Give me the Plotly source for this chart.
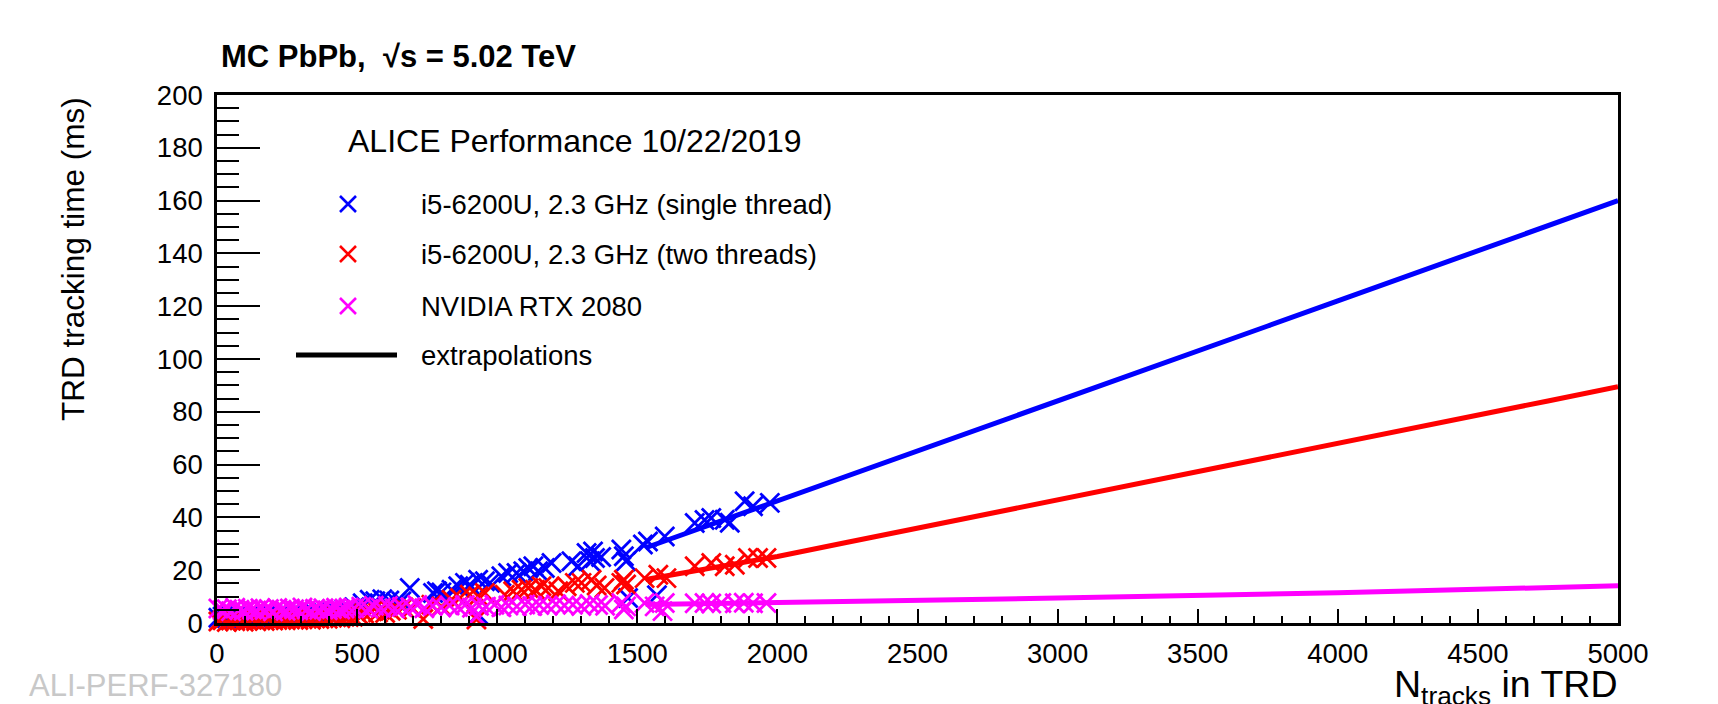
import plotly.graph_objects as go

# ---------------- data ----------------
single_x = [5, 20, 35, 50, 65, 80, 95, 110, 125, 140, 155, 170, 185, 200, 215, 230,
            245, 260, 275, 290, 305, 320, 335, 350, 365, 380, 395, 410, 425, 440, 455, 470,
            490, 520, 545, 565, 590, 615, 640, 658, 688, 771, 785, 801, 837, 861, 885, 902,
            932, 932, 956, 974, 1015, 1039, 1069, 1093, 1111, 1129, 1146, 1170, 1194, 1265,
            1289, 1319, 1331, 1342, 1349, 1371, 1443, 1452, 1460, 1467, 1520, 1538, 1570,
            1598, 1705, 1740, 1764, 1812, 1830, 1883, 1913, 1973]
single_y = [2.0, 2.5, 1.8, 2.6, 2.2, 2.8, 2.1, 2.4, 2.9, 2.3, 2.7, 2.5, 3.0, 2.6, 2.8, 3.1,
            2.7, 3.0, 3.3, 2.9, 3.2, 3.4, 3.1, 3.5, 3.3, 3.7, 3.6, 4.0, 4.3, 4.8, 5.2, 5.5,
            6.0, 7.5, 8.8, 8.2, 9.0, 8.5, 8.0, 8.2, 13.3, 11.4, 12.0, 11.6, 12.6, 13.9, 15.2, 14.5,
            16.4, 3.2, 15.8, 15.2, 17.7, 18.9, 18.9, 19.6, 20.8, 21.5, 19.6, 20.8, 22.7, 23.4,
            21.5, 26.5, 23.4, 27.1, 24.6, 25.0, 27.8, 25.3, 23.4, 9.5, 29.7, 30.9, 10.5,
            32.8, 37.9, 39.0, 39.8, 39.1, 38.0, 46.1, 44.2, 45.5]

two_x = [5, 20, 35, 50, 65, 80, 95, 110, 125, 140, 155, 170, 185, 200, 215, 230,
         245, 260, 275, 290, 305, 320, 335, 350, 365, 380, 395, 410, 425, 440, 455, 470,
         485, 505, 525, 553, 575, 600, 620, 642, 665, 695, 736, 765, 801, 837, 867, 902,
         926, 932, 956, 1027, 1057, 1087, 1111, 1135, 1158, 1182, 1218, 1248, 1277, 1301,
         1337, 1355, 1383, 1443, 1452, 1460, 1526, 1575, 1604, 1705, 1764, 1812, 1848,
         1895, 1931, 1961]
two_y = [0.6, 1.0, 0.4, 0.9, 0.7, 1.1, 0.5, 0.9, 1.2, 0.7, 1.0, 0.8, 1.3, 0.9, 1.1, 1.4,
         1.0, 1.3, 1.5, 1.1, 1.4, 1.6, 1.2, 1.7, 1.5, 1.9, 1.6, 2.0, 2.2, 1.8, 2.4, 2.3,
         2.4, 3.1, 3.6, 4.4, 4.0, 3.8, 4.6, 5.0, 6.0, 5.7, 1.5, 6.9, 6.3, 8.8, 9.5, 10.7,
         1.3, 10.1, 11.4, 10.7, 12.0, 12.6, 13.3, 12.6, 13.9, 13.3, 12.0, 13.9, 15.2, 15.2,
         16.4, 14.2, 13.3, 15.2, 16.4, 14.6, 17.0, 18.3, 17.0, 21.5, 22.7, 21.5, 22.1,
         24.6, 24.6, 24.6]

gpu_x = [5, 20, 35, 50, 65, 80, 95, 110, 125, 140, 155, 170, 185, 200, 215, 230,
         245, 260, 275, 290, 305, 320, 335, 350, 365, 380, 395, 410, 425, 440, 455, 470,
         490, 515, 540, 560, 585, 610, 635, 660, 690, 715, 740, 770, 800, 830, 860, 885,
         910, 926, 935, 960, 990, 1015, 1040, 1070, 1100, 1125, 1150, 1180, 1210, 1240,
         1270, 1300, 1330, 1360, 1385, 1443, 1452, 1460, 1526, 1562, 1590, 1598, 1705,
         1740, 1764, 1800, 1848, 1880, 1913, 1961]
gpu_y = [5.5, 4.8, 5.2, 4.5, 5.8, 5.0, 4.6, 5.4, 5.1, 4.7, 5.6, 4.9, 5.3, 4.4, 5.7, 5.0,
         4.6, 5.5, 5.2, 4.8, 5.9, 5.1, 4.5, 5.4, 5.0, 5.6, 4.8, 5.3, 5.8, 5.1, 5.5, 5.9,
         5.6, 6.2, 5.4, 6.5, 5.8, 6.4, 5.5, 6.1, 6.0, 6.8, 5.6, 6.4, 5.9, 6.6, 6.1, 6.8,
         5.8, 2.5, 6.5, 6.2, 6.9, 6.0, 6.6, 6.3, 7.0, 6.4, 6.8, 6.5, 7.1, 6.6,
         6.9, 6.4, 7.2, 6.8, 6.5, 7.6, 5.1, 6.3, 7.6, 6.3, 4.5, 7.6, 7.5,
         7.6, 7.4, 7.6, 7.5, 7.7, 7.5, 7.6]

ext_x = [1530, 1750, 2000, 2250, 2500, 2750, 3000, 3250, 3500, 3750, 4000, 4250, 4500, 4750, 5000]
ext_single = [28.5, 36.8, 46.0, 55.5, 65.0, 74.5, 84.0, 93.5, 103.0, 112.5, 122.0, 131.5, 141.0, 150.5, 160.0]
ext_two = [16.5, 20.5, 25.2, 30.6, 35.9, 41.3, 46.6, 52.0, 57.3, 62.7, 68.1, 73.4, 78.8, 84.1, 89.5]
ext_gpu = [7.0, 7.3, 7.8, 8.2, 8.6, 9.0, 9.5, 9.9, 10.4, 10.9, 11.5, 12.1, 12.7, 13.4, 14.1]

names = ["i5-6200U, 2.3 GHz (single thread)", "i5-6200U, 2.3 GHz (two threads)", "NVIDIA RTX 2080"]
colors = ["#0000ff", "#ff0000", "#ff00ff"]

# ---------------- figure ----------------
W, H = 1718, 704
ML, MR, MT, MB = 217, 100, 95, 81
PW, PH = W - ML - MR, H - MT - MB
FONT = "Liberation Sans, Arial, sans-serif"
MSIZE, MLW = 19, 2.8


def px(xp):
    return (xp - ML) / PW


def py(yp):
    return (H - MB - yp) / PH


fig = go.Figure()

for xs, ys, c, n in [(single_x, single_y, colors[0], names[0]),
                     (two_x, two_y, colors[1], names[1]),
                     (gpu_x, gpu_y, colors[2], names[2])]:
    fig.add_trace(go.Scatter(x=xs, y=ys, mode="markers", name=n, cliponaxis=False,
                             marker=dict(symbol="x-thin", size=MSIZE,
                                         line=dict(color=c, width=MLW)),
                             showlegend=False))

for ys, c in [(ext_single, colors[0]), (ext_two, colors[1]), (ext_gpu, colors[2])]:
    fig.add_trace(go.Scatter(x=ext_x, y=ys, mode="lines", line=dict(color=c, width=5),
                             showlegend=False))

# legend symbols on an overlay axis measured in page pixels
leg_y = [204, 254, 306]
for yy, c in zip(leg_y, colors):
    fig.add_trace(go.Scatter(x=[348], y=[H - yy], mode="markers", xaxis="x2", yaxis="y2",
                             cliponaxis=False, showlegend=False,
                             marker=dict(symbol="x-thin", size=16,
                                         line=dict(color=c, width=2.6))))
fig.add_trace(go.Scatter(x=[296, 397], y=[H - 355, H - 355], mode="lines", xaxis="x2", yaxis="y2",
                         cliponaxis=False, showlegend=False, line=dict(color="black", width=5)))

tickfont = dict(family=FONT, size=27.5, color="black")
fig.update_layout(
    width=W, height=H,
    margin=dict(l=ML, r=MR, t=MT, b=MB),
    paper_bgcolor="white", plot_bgcolor="white",
    showlegend=False,
    xaxis=dict(range=[0, 5000], dtick=500, tick0=0, showgrid=False, zeroline=False,
               showline=True, linecolor="black", linewidth=2.5, mirror=True,
               ticks="inside", ticklen=14, tickwidth=2, tickcolor="black",
               minor=dict(dtick=100, ticks="inside", ticklen=7, tickwidth=2, tickcolor="black"),
               tickfont=tickfont, ticklabelstandoff=4),
    yaxis=dict(range=[0, 200], dtick=20, tick0=0, showgrid=False, zeroline=False,
               showline=True, linecolor="black", linewidth=2.5, mirror=True,
               ticks="inside", ticklen=43, tickwidth=2, tickcolor="black",
               minor=dict(dtick=5, ticks="inside", ticklen=22, tickwidth=2, tickcolor="black"),
               tickfont=tickfont, ticklabelstandoff=6),
    xaxis2=dict(overlaying="x", range=[ML, W - MR], visible=False),
    yaxis2=dict(overlaying="y", range=[MB, H - MT], visible=False),
)

ann = []
ann.append(dict(text="<b>MC PbPb,  √s = 5.02 TeV</b>", x=px(219), y=py(57), xanchor="left",
                yanchor="middle", font=dict(family=FONT, size=31, color="black")))
ann.append(dict(text="ALICE Performance 10/22/2019", x=px(346), y=py(141), xanchor="left",
                yanchor="middle", font=dict(family=FONT, size=32, color="black")))
for yy, n in zip(leg_y, names):
    ann.append(dict(text=n, x=px(419), y=py(yy), xanchor="left", yanchor="middle",
                    font=dict(family=FONT, size=27.5, color="black")))
ann.append(dict(text="extrapolations", x=px(419), y=py(355), xanchor="left", yanchor="middle",
                font=dict(family=FONT, size=27.5, color="black")))
ann.append(dict(text="TRD tracking time (ms)", textangle=-90, x=px(73), y=py(95),
                xanchor="center", yanchor="top", font=dict(family=FONT, size=31.5, color="black")))
ann.append(dict(text="N<sub>tracks</sub> in TRD", x=px(1620), y=py(687), xanchor="right",
                yanchor="middle", font=dict(family=FONT, size=37.5, color="black")))
ann.append(dict(text="ALI-PERF-327180", x=px(27), y=py(685), xanchor="left", yanchor="middle",
                font=dict(family=FONT, size=31, color="#c8c8c8")))
for a in ann:
    a.update(xref="paper", yref="paper", showarrow=False)
fig.update_layout(annotations=ann)

fig.write_html("out.html")
